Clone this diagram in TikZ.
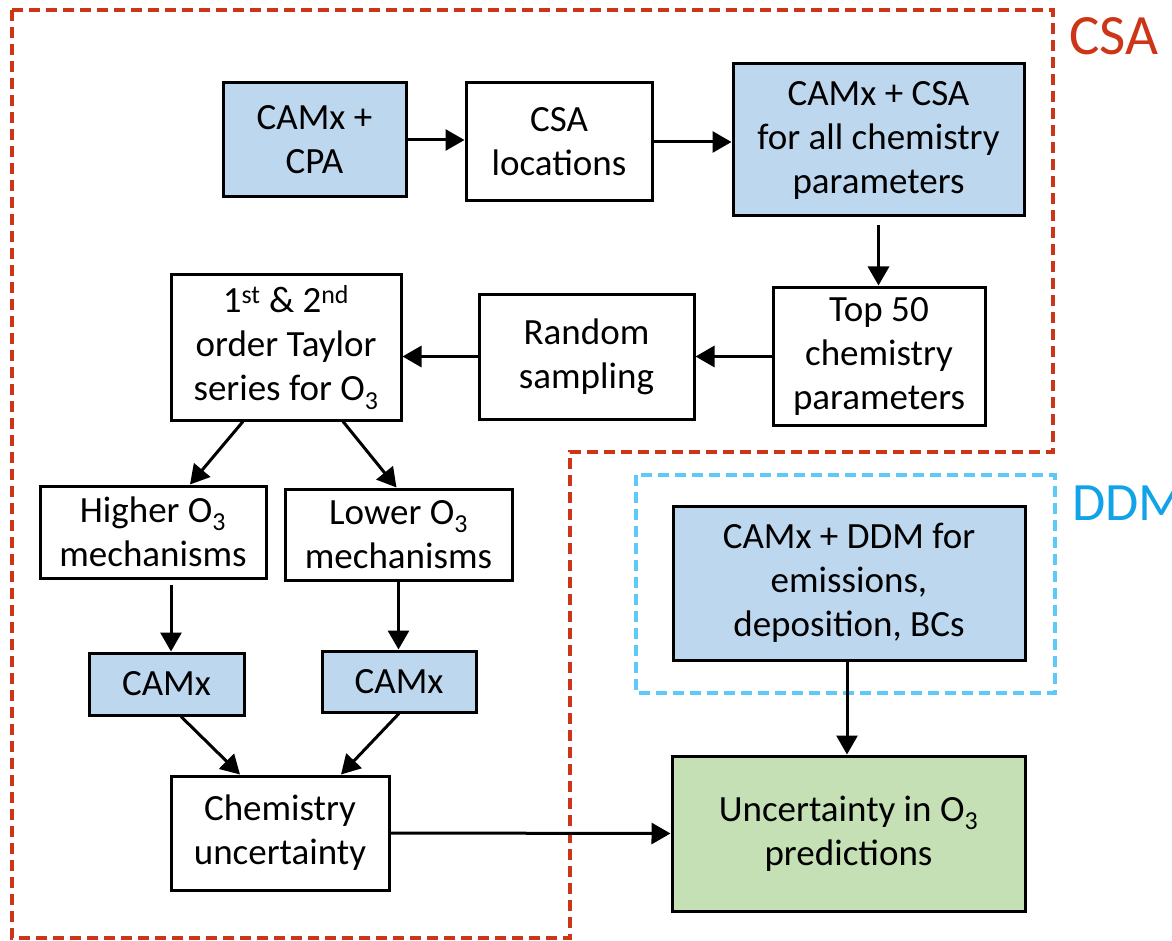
\documentclass[tikz,border=0pt]{standalone}
\usepackage{fontspec}
\setmainfont{Carlito}
\usetikzlibrary{arrows.meta,calc}
\definecolor{boxblue}{HTML}{BDD7EE}
\definecolor{boxgreen}{HTML}{C5E0B4}
\definecolor{csared}{HTML}{CC3516}
\definecolor{ddmdash}{HTML}{5EC8F8}
\definecolor{ddmtext}{HTML}{12A2E8}
\begin{document}
\begin{tikzpicture}[x=1pt,y=-1pt,
  box/.style={draw=black,line width=3pt,align=center,inner sep=0pt,
    font=\fontsize{37}{44}\selectfont},
  bluebox/.style={box,fill=boxblue},
  greenbox/.style={box,fill=boxgreen},
  arr/.style={line width=3pt,-{Triangle[length=19pt,width=21pt]}},
  region/.style={dashed,line width=3.5pt,dash pattern=on 11pt off 6pt}]
\useasboundingbox (0,0) rectangle (1172,941);
\fill[white] (0,0) rectangle (1172,941);

% region outlines
\draw[region,draw=csared] (12,10) -- (1053,10) -- (1053,452) -- (570,452) -- (570,938) -- (12,938) -- cycle;
\draw[region,draw=ddmdash] (636,475) rectangle (1055,693);
\node[text=csared,font=\fontsize{57}{60}\selectfont,anchor=base west] (csalbl) at (1066,55) {CSA};
\node[text=ddmtext,font=\fontsize{54}{60}\selectfont,anchor=base west] (ddmlbl) at (1069,520) {DDM};

% nodes
\node[bluebox,minimum width=183pt,minimum height=114pt] (cpa) at (314.5,140) {CAMx +\\CPA};
\node[box,minimum width=186pt,minimum height=118pt] (loc) at (559,142) {CSA\\locations};
\node[bluebox,minimum width=291pt,minimum height=152pt] (csa) at (878.5,140) {CAMx + CSA\\for all chemistry\\parameters};
\node[box,minimum width=212pt,minimum height=138pt] (top) at (879,356) {Top 50\\chemistry\\parameters};
\node[box,minimum width=215pt,minimum height=125pt] (rnd) at (586.5,356.5) {Random\\sampling};
\node[box,minimum width=230pt,minimum height=145pt] (tay) at (286,347.5) {1\textsuperscript{st} \& 2\textsuperscript{nd}\\order Taylor\\series for O\textsubscript{3}};
\node[box,minimum width=226pt,minimum height=92pt] (hi) at (153,532) {Higher O\textsubscript{3}\\mechanisms};
\node[box,minimum width=227pt,minimum height=91pt] (lo) at (398.5,534.5) {Lower O\textsubscript{3}\\mechanisms};
\node[bluebox,minimum width=155pt,minimum height=62pt] (cl) at (166.5,684) {CAMx};
\node[bluebox,minimum width=154pt,minimum height=61pt] (cr) at (399,681.5) {CAMx};
\node[box,minimum width=218pt,minimum height=114pt] (unc) at (280,833) {Chemistry\\uncertainty};
\node[bluebox,minimum width=352pt,minimum height=154pt] (ddm) at (849,583) {CAMx + DDM for\\emissions,\\deposition, BCs};
\node[greenbox,minimum width=353pt,minimum height=155pt] (out) at (848.5,833.5) {Uncertainty in O\textsubscript{3}\\predictions};

% connectors
\draw[arr] (cpa.east) -- (cpa.east -| loc.west);
\draw[arr] (loc.east) -- (loc.east -| csa.west);
\draw[arr,shorten <=8pt] (csa.south) -- (csa.south |- top.north);
\draw[arr] (top.west |- rnd.west) -- (rnd.east);
\draw[arr] (rnd.west) -- (rnd.west -| tay.east);
\draw[arr] ($(tay.south)+(-43,0)$) -- ($(hi.north)+(37,0)$);
\draw[arr] ($(tay.south)+(57,0)$) -- ($(lo.north)+(-2,0)$);
\draw[arr,shorten <=5pt] ($(hi.south)+(18,0)$) -- ($(cl.north)+(4.5,0)$);
\draw[arr] (lo.south) -- (lo.south |- cr.north);
\draw[arr] ($(cl.south)+(14.5,0)$) -- ($(unc.north)+(-40,0)$);
\draw[arr] (cr.south) -- ($(unc.north)+(61,0)$);
\draw[arr] (unc.east) -- (out.west);
\draw[arr] ($(ddm.south)+(-2,0)$) -- ($(out.north)+(-1.5,0)$);
\end{tikzpicture}
\end{document}
